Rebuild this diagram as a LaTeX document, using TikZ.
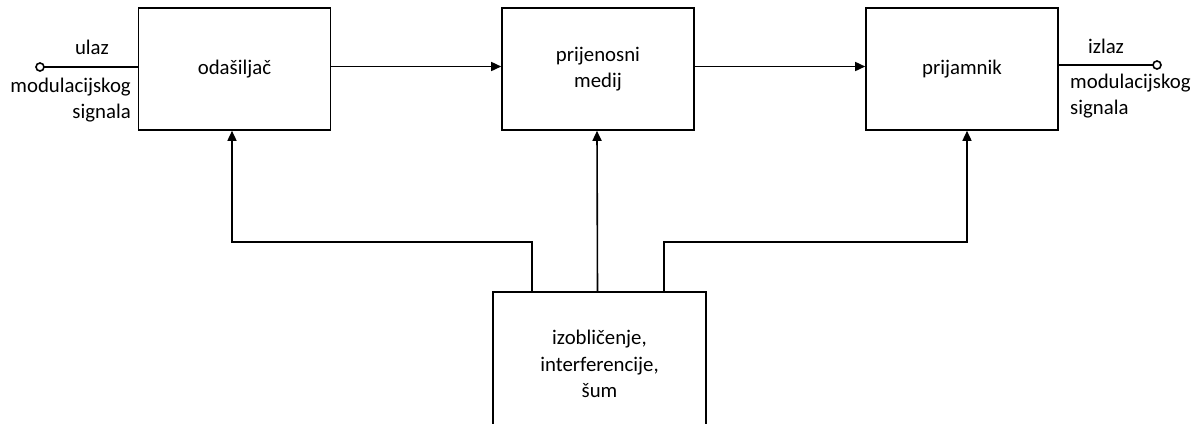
\documentclass[tikz,border=0pt]{standalone}
\usepackage{fontspec}
\setmainfont{Carlito}
\usetikzlibrary{arrows.meta}
\begin{document}
\begin{tikzpicture}[x=1bp,y=-1bp,
  blk/.style={draw,line width=1.6bp,rectangle,minimum width=192bp,minimum height=122bp,align=center,inner sep=0pt},
  arr/.style={line width=1.6bp,-{Triangle[length=10bp,width=9bp]}},
  ln/.style={line width=1.6bp},
  lbl/.style={inner sep=0pt,align=center},
  every node/.style={font=\fontsize{20.8bp}{26.5bp}\selectfont}]
\useasboundingbox (0,0) rectangle (1200,423);
\node[blk] (tx) at (234.5,69) {odašiljač};
\node[blk] (med) at (598,69) {prijenosni\\medij};
\node[blk] (rx) at (962,69) {prijamnik};
\node[blk,minimum width=213bp,minimum height=144bp] (noise) at (599.5,364) {izobličenje,\\interferencije,\\šum};
% input / output
\coordinate (inL) at (40,67);
\coordinate (outR) at (1157,65);
\draw[ln] ([xshift=4bp]inL) -- (inL -| tx.west);
\draw[ln,fill=white] (inL) circle[radius=4bp];
\draw[ln] (outR -| rx.east) -- ([xshift=-4bp]outR);
\draw[ln,fill=white] (outR) circle[radius=4bp];
\node[lbl] (ulaz) at (92,47) {ulaz};
\node[lbl,align=right,anchor=east] (inlbl) at (131,100) {modulacijskog\\signala};
\node[lbl] (izlaz) at (1106,46) {izlaz};
\node[lbl,align=left,anchor=west] (outlbl) at (1070,96) {modulacijskog\\signala};
% chain
\draw[arr] ([yshift=2.5bp]tx.east) -- ([yshift=2.5bp]med.west);
\draw[arr] ([yshift=2.5bp]med.east) -- ([yshift=2.5bp]rx.west);
% noise feeds
\draw[arr] ([xshift=-67.5bp]noise.north) |- ([xshift=-2.5bp]tx.south |- 0,242) -- ([xshift=-2.5bp]tx.south);
\draw[arr] ([xshift=-2bp]noise.north) -- ([xshift=-1bp]med.south);
\draw[arr] ([xshift=64.5bp]noise.north) |- ([xshift=5bp]rx.south |- 0,242) -- ([xshift=5bp]rx.south);
\end{tikzpicture}
\end{document}
